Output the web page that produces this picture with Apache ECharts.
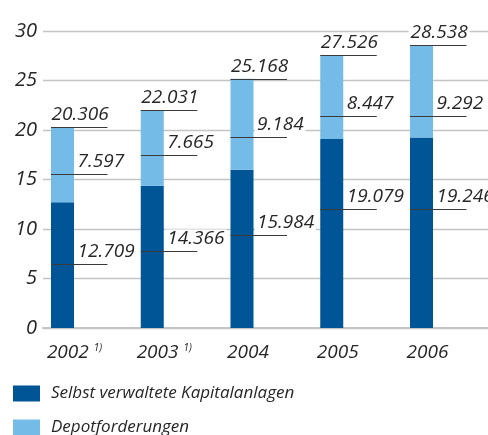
<!DOCTYPE html>
<html lang="de">
<head>
<meta charset="UTF-8">
<title>Kapitalanlagen</title>
<script src="https://cdn.jsdelivr.net/npm/echarts@6/dist/echarts.min.js"></script>
<style>
	html, body { margin: 0; padding: 0; background: #fff; }
	#chart { width: 488px; height: 435px; }
</style>
</head>
<body>
<div id="chart"></div>
<script>
	var years = ['2002', '2003', '2004', '2005', '2006'];
	var footnotes = ['1)', '1)', '', '', ''];
	var selbst = [12.709, 14.366, 15.984, 19.079, 19.246];
	var depot = [7.597, 7.665, 9.184, 8.447, 9.292];
	var totals = [20.306, 22.031, 25.168, 27.526, 28.538];
	// Höhe der Hinweislinien
	var selbstLabelAt = [6.48, 7.79, 9.41, 11.98, 11.98];
	var depotLabelAt = [15.59, 17.5, 19.33, 21.39, 21.39];
	var yMin = 0, yMax = 30, yStep = 5;

	var FONT = '"Open Sans", "DejaVu Sans", sans-serif';
	var DARK = '#005596';
	var LIGHT = '#74bbe7';
	var INK = '#262626';

	var chart = echarts.init(document.getElementById('chart'));

	var cats = [];
	for (var i = 0; i < years.length; i++) {
		if (footnotes[i]) {
			cats.push({value: years[i] + '|' + footnotes[i], textStyle: {padding: [0, 0, 0, 24]}});
		} else {
			cats.push({value: years[i], textStyle: {padding: [0, 0, 0, 12]}});
		}
	}

	var labelData = [];
	for (var j = 0; j < years.length; j++) {
		labelData.push([j, selbstLabelAt[j], selbst[j], 1]);
		labelData.push([j, depotLabelAt[j], depot[j], 1]);
		labelData.push([j, totals[j], totals[j], 0]);
	}

	function renderLabel(params, api) {
		var p = api.coord([api.value(0), api.value(1)]);
		var x = p[0], y = Math.round(p[1]) + 0.5;
		var top = api.value(3) === 0;
		return {
			type: 'group',
			children: [
				{
					type: 'line',
					shape: {x1: x - 11.5, y1: y, x2: x + 45, y2: y},
					style: {stroke: '#3a3a3a', lineWidth: 1.2}
				},
				{
					type: 'text',
					x: top ? x - 13 : x + 13,
					y: y - 3,
					style: {
						text: api.value(2).toFixed(3),
						font: 'italic 500 19px ' + FONT,
						fill: INK,
						align: 'left',
						verticalAlign: 'bottom',
						backgroundColor: '#fff',
						padding: [0, 2]
					}
				}
			]
		};
	}

	chart.setOption({
		animation: false,
		grid: [
			{left: 43, right: 0, top: 31, bottom: 107},
			{left: 17.625, width: 448.75, top: 31, bottom: 107}
		],
		legend: {
			data: ['Selbst verwaltete Kapitalanlagen', 'Depotforderungen'],
			orient: 'vertical',
			left: 13,
			top: 385,
			height: 60,
			padding: 0,
			icon: 'rect',
			itemWidth: 27,
			itemHeight: 16,
			itemGap: 17,
			selectedMode: false,
			textStyle: {
				fontFamily: FONT,
				fontStyle: 'italic',
				fontSize: 17,
				lineHeight: 16,
				color: INK,
				padding: [0, 0, 0, 6]
			}
		},
		xAxis: [
			{
				gridIndex: 0,
				type: 'value',
				axisLine: {show: true, lineStyle: {color: '#c4c4c4', width: 2}},
				axisTick: {show: false},
				axisLabel: {show: false},
				splitLine: {show: false}
			},
			{
				gridIndex: 1,
				type: 'category',
				data: cats,
				axisLine: {show: false},
				axisTick: {show: false},
				axisLabel: {
					interval: 0,
					margin: 15,
					fontFamily: FONT,
					fontStyle: 'italic',
					fontSize: 19,
					fontWeight: 500,
					color: INK,
					formatter: function (v) {
						var parts = v.split('|');
						return parts[1] ? '{y|' + parts[0] + '}{s|' + parts[1] + '}' : '{y|' + parts[0] + '}';
					},
					rich: {
						y: {fontFamily: FONT, fontStyle: 'italic', fontWeight: 500, fontSize: 19, color: INK},
						s: {fontFamily: FONT, fontStyle: 'italic', fontSize: 10, color: INK, verticalAlign: 'top', padding: [0, 0, 6, 5]}
					}
				}
			}
		],
		yAxis: [
			{
				gridIndex: 0,
				type: 'value',
				min: yMin,
				max: yMax,
				interval: yStep,
				axisLine: {show: false},
				axisTick: {show: false},
				axisLabel: {
					margin: 6,
					fontFamily: FONT,
					fontStyle: 'italic',
					fontWeight: 500,
					fontSize: 20,
					color: INK
				},
				splitLine: {lineStyle: {color: '#c4c4c4', width: 1.3}}
			},
			{
				gridIndex: 1,
				type: 'value',
				min: yMin,
				max: yMax,
				show: false
			}
		],
		series: [
			{
				name: 'Selbst verwaltete Kapitalanlagen',
				type: 'bar',
				stack: 'sum',
				xAxisIndex: 1,
				yAxisIndex: 1,
				barWidth: 23,
				itemStyle: {color: DARK},
				data: selbst
			},
			{
				name: 'Depotforderungen',
				type: 'bar',
				stack: 'sum',
				xAxisIndex: 1,
				yAxisIndex: 1,
				barWidth: 23,
				itemStyle: {color: LIGHT},
				data: depot
			},
			{
				type: 'custom',
				xAxisIndex: 1,
				yAxisIndex: 1,
				silent: true,
				clip: false,
				z: 10,
				encode: {x: 0, y: 1},
				renderItem: renderLabel,
				data: labelData
			}
		]
	});
</script>
</body>
</html>
